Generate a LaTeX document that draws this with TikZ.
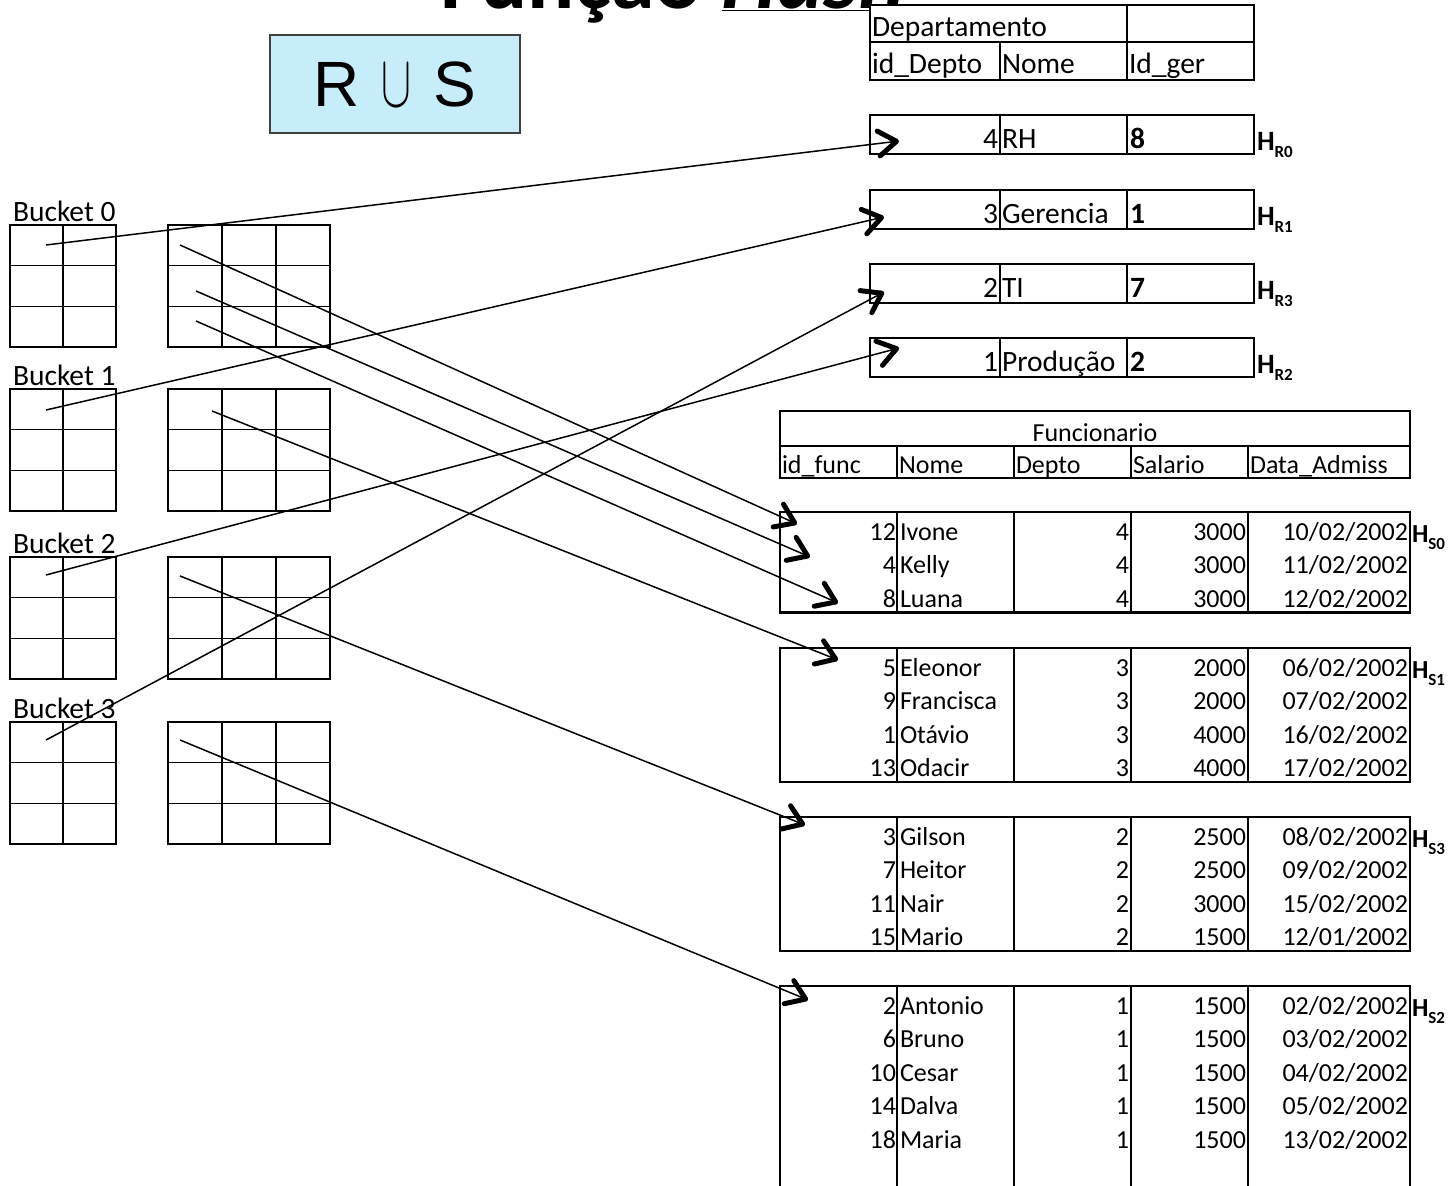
\documentclass[tikz,border=0pt]{standalone}
\usepackage{fontspec}
\setmainfont{Carlito}
\newfontfamily\arialfont{Liberation Sans}
\usetikzlibrary{arrows.meta}

\tikzset{
  every node/.style={inner sep=0pt, outer sep=0pt},
  tbl/.style={draw=black, line width=2.6pt, fill=white},
  sepline/.style={draw=black, line width=2.6pt},
  gridline/.style={draw=black, line width=1.4pt},
  lt/.style={anchor=base west, font=\fontsize{26}{30}\selectfont},
  rt/.style={anchor=base east, font=\fontsize{26}{30}\selectfont},
  ct/.style={anchor=base, font=\fontsize{26}{30}\selectfont},
  dlt/.style={anchor=base west, font=\fontsize{29.5}{33}\selectfont},
  drt/.style={anchor=base east, font=\fontsize{29.5}{33}\selectfont},
  dbt/.style={anchor=base west, font=\fontsize{29.5}{33}\selectfont\bfseries},
  hlabel/.style={anchor=base west, font=\fontsize{26}{30}\selectfont\bfseries},
  dhlabel/.style={anchor=base west, font=\fontsize{28}{32}\selectfont\bfseries},
  bucketlabel/.style={anchor=base west, font=\fontsize{29.5}{33}\selectfont},
  link/.style={line width=1.5pt, -{Straight Barb[length=18pt,width=25pt,line width=5pt,round]}},
}
\newcommand\hsub[2]{#1\raisebox{-7pt}{\fontsize{17}{20}\selectfont #2}}

\begin{document}
\begin{tikzpicture}[x=1pt,y=-1pt]
\useasboundingbox (0,0) rectangle (1452,1186);
\clip (0,0) rectangle (1452,1186);

% title
\node[anchor=base west, font=\fontsize{88}{96}\selectfont\bfseries] (title) at (440,8)
  {Função \underline{\textit{Hash}}};

% union box
\node[draw=black!75, line width=1.5pt, fill=cyan!22, minimum width=250pt, minimum height=98pt,
      font=\arialfont\fontsize{64}{70}\selectfont] (union) at (395,84)
  {R\hspace{22pt}{\fontsize{24.88}{28}\selectfont\scalebox{1.8}[3]{$\cup$}}\hspace{22pt}S};

% Departamento header
\draw[tbl] (870,5) rectangle (1254,80);
\draw[sepline] (870,42) -- (1254,42);
\draw[sepline] (1127,5) -- (1127,80);
\draw[sepline] (1000,42) -- (1000,80);
\node[dlt] (dtitle) at (872,36) {Departamento};
\node[dlt] (dhid) at (872,73) {id\_Depto};
\node[dlt] (dhnome) at (1002,73) {Nome};
\node[dlt] (dhger) at (1129,73) {Id\_ger};

% Departamento rows
\foreach \y/\id/\nm/\ger/\h [count=\k] in {115/4/RH/8/R0, 190/3/Gerencia/1/R1, 264/2/TI/7/R3, 338/1/Produção/2/R2}{
  \draw[tbl] (870,\y) rectangle ++(384,39);
  \draw[sepline] (1000,\y) -- ++(0,39);
  \draw[sepline] (1127,\y) -- ++(0,39);
  \node[drt] (did\k) at (998,\y+33) {\id};
  \node[dlt] (dnm\k) at (1002,\y+33) {\nm};
  \node[dbt] (dger\k) at (1130,\y+33) {\ger};
  \node[dhlabel] (dh\k) at (1257,\y+35) {\hsub{H}{\h}};
}

% Funcionario header
\draw[tbl] (780,411) rectangle (1410,478);
\draw[sepline] (780,446) -- (1410,446);
\foreach \x in {897,1014,1131,1248}{\draw[sepline] (\x,446) -- (\x,478);}
\node[ct] (ftitle) at (1095,441) {Funcionario};
\node[lt] (fh1) at (782,473) {id\_func};
\node[lt] (fh2) at (899,473) {Nome};
\node[lt] (fh3) at (1016,473) {Depto};
\node[lt] (fh4) at (1133,473) {Salario};
\node[lt] (fh5) at (1250,473) {Data\_Admiss};

% Funcionario groups
\draw[tbl] (780,512) rectangle (1410,612.5);
\draw[tbl] (780,648) rectangle (1410,782);
\draw[tbl] (780,817) rectangle (1410,951);
\draw[tbl] (780,1200) -- (780,986) -- (1410,986) -- (1410,1200);
\foreach \t/\b in {512/612.5, 648/782, 817/951, 986/1200}{
  \foreach \x in {897,1014,1131,1248}{\draw[sepline] (\x,\t) -- (\x,\b);}
}

\foreach \g/\t/\rows in {
  0/512/{12/Ivone/4/3000/10\slash 02\slash 2002, 4/Kelly/4/3000/11\slash 02\slash 2002, 8/Luana/4/3000/12\slash 02\slash 2002},
  1/648/{5/Eleonor/3/2000/06\slash 02\slash 2002, 9/Francisca/3/2000/07\slash 02\slash 2002, 1/Otávio/3/4000/16\slash 02\slash 2002, 13/Odacir/3/4000/17\slash 02\slash 2002},
  3/817/{3/Gilson/2/2500/08\slash 02\slash 2002, 7/Heitor/2/2500/09\slash 02\slash 2002, 11/Nair/2/3000/15\slash 02\slash 2002, 15/Mario/2/1500/12\slash 01\slash 2002},
  2/986/{2/Antonio/1/1500/02\slash 02\slash 2002, 6/Bruno/1/1500/03\slash 02\slash 2002, 10/Cesar/1/1500/04\slash 02\slash 2002, 14/Dalva/1/1500/05\slash 02\slash 2002, 18/Maria/1/1500/13\slash 02\slash 2002}}{
  \foreach \fid/\fnm/\fdp/\fsal/\fdt [count=\k from 0] in \rows {
    \pgfmathsetmacro\yb{\t+28+\k*33.5}
    \node[rt] (f\g id\k) at (896,\yb) {\fid};
    \node[lt] (f\g nm\k) at (900,\yb) {\fnm};
    \node[rt] (f\g dp\k) at (1129,\yb) {\fdp};
    \node[rt] (f\g sal\k) at (1246,\yb) {\fsal};
    \node[rt] (f\g dt\k) at (1408,\yb) {\fdt};
  }
  \node[hlabel] (hs\g) at (1412,\t+30) {\hsub{H}{S\g}};
}

% buckets
\foreach \t [count=\k from 0] in {225,389,557,722}{
  \node[bucketlabel] (blabel\k) at (13,\t-4) {Bucket \k};
  \draw[gridline] (10,\t) rectangle (116,\t+122);
  \draw[gridline] (63,\t) -- (63,\t+122);
  \draw[gridline] (168,\t) rectangle (330,\t+122);
  \draw[gridline] (222,\t) -- (222,\t+122);
  \draw[gridline] (276,\t) -- (276,\t+122);
  \foreach \r in {40.7,81.3}{
    \draw[gridline] (10,\t+\r) -- (116,\t+\r);
    \draw[gridline] (168,\t+\r) -- (330,\t+\r);
  }
}

% link end points
\coordinate (b0l) at (46,245);
\coordinate (b1l) at (46,410);
\coordinate (b2l) at (46,575);
\coordinate (b3l) at (46,740);
\coordinate (b0ra) at (180,245);
\coordinate (b0rb) at (196,291);
\coordinate (b0rc) at (196,321);
\coordinate (b1r) at (212,411);
\coordinate (b2r) at (180,576);
\coordinate (b3r) at (180,740);

\coordinate (inRH) at (899,141);
\coordinate (inGer) at (884,217);
\coordinate (inTI) at (884,292);
\coordinate (inProd) at (899,348);
\coordinate (inS0a) at (797,524);
\coordinate (inS0b) at (810,557);
\coordinate (inS0c) at (838,603);
\coordinate (inS1) at (838,660);
\coordinate (inS3) at (805,825);
\coordinate (inS2) at (808,1000);

% links
\draw[link] (b0l) -- (inRH);
\draw[link] (b1l) -- (inGer);
\draw[link] (b2l) -- (inProd);
\draw[link] (b3l) -- (inTI);
\draw[link] (b0ra) -- (inS0a);
\draw[link] (b0rb) -- (inS0b);
\draw[link] (b0rc) -- (inS0c);
\draw[link] (b1r) -- (inS1);
\draw[link] (b2r) -- (inS3);
\draw[link] (b3r) -- (inS2);
\end{tikzpicture}
\end{document}
